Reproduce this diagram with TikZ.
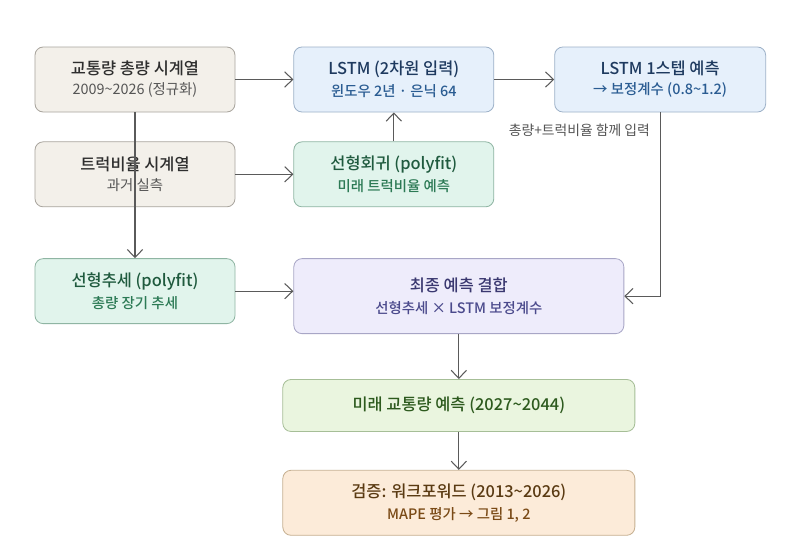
\documentclass[tikz,border=0pt]{standalone}
\usepackage{fontspec}
\setmainfont{Noto Sans CJK KR}
\newfontfamily\medfont{Noto Sans CJK KR Medium}
\usepackage{xcolor}
\usetikzlibrary{arrows.meta,positioning,calc}

\definecolor{rawbg}{HTML}{F3F0EA}  \definecolor{rawln}{HTML}{A9A59E}
\definecolor{rawtx}{HTML}{2E2E2E}  \definecolor{rawsub}{HTML}{555555}
\definecolor{lstbg}{HTML}{E6F0FB}  \definecolor{lstln}{HTML}{9DB1C8}
\definecolor{lsttx}{HTML}{1E3A5F}  \definecolor{lstsub}{HTML}{2A5C92}
\definecolor{linbg}{HTML}{E1F4EC}  \definecolor{linln}{HTML}{8FB5A3}
\definecolor{lintx}{HTML}{1F5A3E}  \definecolor{linsub}{HTML}{2C7A55}
\definecolor{cmbbg}{HTML}{EEECFB}  \definecolor{cmbln}{HTML}{A8A6C6}
\definecolor{cmbtx}{HTML}{3A3870}  \definecolor{cmbsub}{HTML}{4B4A8C}
\definecolor{futbg}{HTML}{EAF5DF}  \definecolor{futln}{HTML}{A6BE97}
\definecolor{futtx}{HTML}{2D5A1E}
\definecolor{valbg}{HTML}{FCEBD9}  \definecolor{valln}{HTML}{C6B091}
\definecolor{valtx}{HTML}{5A3A12}  \definecolor{valsub}{HTML}{7A4A16}
\definecolor{arrln}{HTML}{5A5A5A}

\newcommand\boxttl[1]{{\medfont\fontsize{14}{16}\selectfont #1}}
\newcommand\boxsub[1]{{\fontsize{12.3}{14}\selectfont #1}}
\newcommand\boxsubm[1]{{\medfont\fontsize{12.3}{14}\selectfont #1}}

\begin{document}
\begin{tikzpicture}[
  x=0.03cm, y=-0.03cm,
  box/.style={draw, rounded corners=7pt, align=center, line width=0.7pt,
              inner sep=2pt},
  sm/.style={minimum width=6cm, minimum height=1.95cm},
  raw/.style={fill=rawbg, draw=rawln, text=rawtx},
  lst/.style={fill=lstbg, draw=lstln, text=lsttx},
  lin/.style={fill=linbg, draw=linln, text=lintx},
  cmb/.style={fill=cmbbg, draw=cmbln, text=cmbtx},
  fut/.style={fill=futbg, draw=futln, text=futtx},
  val/.style={fill=valbg, draw=valln, text=valtx},
  arr/.style={-{Straight Barb[length=2.4mm,width=4.6mm]}, line width=0.9pt, draw=arrln},
  lbl/.style={font=\fontsize{11.8}{13}\selectfont, text=rawsub, inner sep=0pt}
]
\useasboundingbox[fill=white] (0,0) rectangle (800,553);

\node[box, raw, sm] (tot) at (135,79.5)
  {\boxttl{교통량 총량 시계열}\\[5pt]\color{rawsub}\boxsub{2009\textasciitilde 2026 (정규화)}};
\node[box, raw, sm, below=0.87cm of tot] (truck)
  {\boxttl{트럭비율 시계열}\\[5pt]\color{rawsub}\boxsub{과거 실측}};
\node[box, lin, sm, below=1.53cm of truck] (trend)
  {\boxttl{선형추세 (polyfit)}\\[5pt]\color{linsub}\boxsubm{총량 장기 추세}};
\node[box, lst, sm, right=1.74cm of tot] (lstm)
  {\boxttl{LSTM (2차원 입력)}\\[5pt]\color{lstsub}\boxsubm{윈도우 2년 · 은닉 64}};
\node[box, lin, sm, below=0.87cm of lstm] (reg)
  {\boxttl{선형회귀 (polyfit)}\\[5pt]\color{linsub}\boxsubm{미래 트럭비율 예측}};
\node[box, lst, minimum width=6.33cm, minimum height=1.95cm, right=1.8cm of lstm] (step)
  {\boxttl{LSTM 1스텝 예측}\\[5pt]\color{lstsub}\boxsubm{→ 보정계수 (0.8\textasciitilde 1.2)}};
\node[box, cmb, minimum width=9.9cm, minimum height=2.25cm, anchor=north west]
  (comb) at (reg.west |- trend.north)
  {\boxttl{최종 예측 결합}\\[7pt]\color{cmbsub}\boxsubm{선형추세 × LSTM 보정계수}};
\node[box, fut, minimum width=10.56cm, minimum height=1.56cm, below=1.35cm of comb] (futr)
  {\boxttl{미래 교통량 예측 (2027\textasciitilde 2044)}};
\node[box, val, minimum width=10.56cm, minimum height=1.95cm, below=1.14cm of futr] (valid)
  {\boxttl{검증: 워크포워드 (2013\textasciitilde 2026)}\\[5pt]\color{valsub}\boxsubm{MAPE 평가 → 그림 1, 2}};

\draw[arr] (tot) -- (lstm);
\draw[arr] (truck) -- (reg);
\draw[arr] (reg) -- (lstm);
\draw[arr] (lstm) -- (step);
\draw[arr] (tot) -- (trend);
\draw[arr] (step) |- (comb);
\draw[arr] (trend) -- (trend -| comb.west);
\draw[arr] (comb) -- (futr);
\draw[arr] (futr) -- (valid);

\node[lbl, below left=0.33cm and 0.3cm of step.south] (note) {총량+트럭비율 함께 입력};
\end{tikzpicture}
\end{document}
